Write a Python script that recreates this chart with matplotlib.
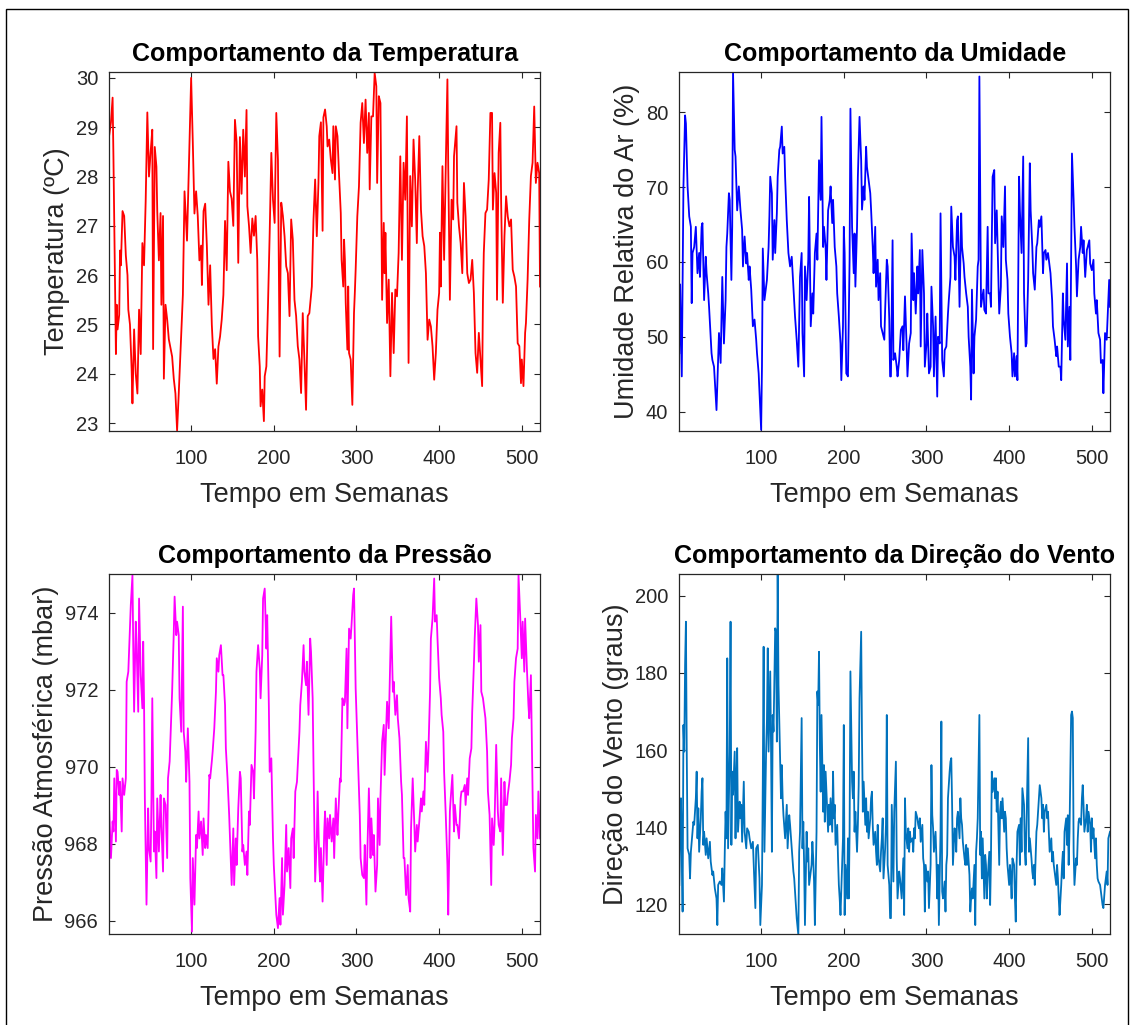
import numpy as np
import matplotlib.pyplot as plt
from matplotlib.patches import Rectangle

plt.rcParams['font.family'] = ['Liberation Sans', 'DejaVu Sans']

# leituras (semana, valor) estimadas do grafico
temperatura = [
    (1, 28.85), (3, 29.1), (5, 29.6), (6, 28.4), (9, 24.4), (10, 25.4), (11, 24.9), (13, 25.2), (14, 26.5),
    (15, 26.2), (17, 27.3), (19, 27.2), (21, 26.4), (23, 26.0), (24, 25.3), (26, 25.0), (28, 24.1), (29, 23.4),
    (31, 24.9), (33, 24.0), (35, 23.6), (37, 25.3), (39, 24.4), (41, 26.65), (43, 26.2), (45, 27.5), (47, 29.3),
    (49, 28.0), (51, 28.5), (53, 28.95), (54, 24.5), (56, 28.6), (58, 28.2), (59, 27.3), (61, 26.3), (63, 27.26),
    (64, 25.4), (66, 27.2), (67, 23.9), (69, 25.4), (71, 25.1), (73, 24.7), (77, 24.35), (79, 23.9), (81, 23.6),
    (83, 22.85), (85, 23.6), (88, 24.8), (90, 25.6), (92, 27.7), (95, 26.7), (97, 28.0), (100, 30.0), (102, 28.7),
    (104, 27.25), (106, 27.7), (108, 27.2), (110, 26.3), (112, 26.6), (113, 25.8), (115, 27.3), (117, 27.45),
    (119, 26.6), (121, 25.4), (123, 26.2), (125, 25.0), (127, 24.3), (129, 24.5), (131, 23.8), (133, 24.55),
    (135, 24.76), (137, 25.1), (139, 25.6), (141, 27.1), (143, 26.1), (145, 28.3), (147, 27.7), (149, 27.55),
    (151, 27.0), (153, 29.15), (155, 28.7), (157, 26.25), (159, 28.8), (161, 27.65), (163, 28.95), (165, 28.0),
    (167, 29.35), (168, 27.4), (170, 27.0), (172, 26.45), (174, 27.15), (176, 26.8), (178, 27.2), (180, 26.3),
    (181, 24.76), (183, 24.15), (184, 23.34), (186, 23.68), (188, 23.04), (189, 23.95), (191, 24.15), (193, 25.43),
    (195, 26.85), (197, 28.48), (199, 27.53), (201, 27.06), (203, 29.29), (205, 28.34), (207, 24.35), (209, 27.47),
    (211, 27.2), (213, 26.79), (215, 26.18), (217, 26.04), (219, 25.17), (221, 27.13), (223, 26.72), (225, 25.5),
    (227, 25.17), (229, 24.56), (231, 24.29), (233, 23.61), (235, 25.23), (237, 24.29), (239, 23.27), (241, 25.17),
    (243, 25.23), (246, 25.77), (248, 27.13), (250, 27.94), (252, 26.79), (254, 27.87), (255, 28.82), (257, 29.1),
    (259, 26.9), (260, 29.2), (262, 29.36), (264, 29.02), (265, 28.61), (267, 28.75), (269, 28.34), (271, 28.07),
    (272, 29.02), (274, 27.94), (275, 29.02), (277, 28.82), (279, 28.0), (281, 27.26), (282, 26.31), (284, 25.77),
    (285, 26.72), (286, 26.31), (287, 25.44), (289, 24.49), (290, 25.77), (291, 24.42), (293, 24.29), (295, 23.37),
    (297, 25.23), (298, 25.64), (299, 26.11), (301, 27.19), (303, 27.80), (305, 29.09), (307, 29.49), (309, 28.68),
    (311, 29.56), (313, 28.48), (315, 29.29), (316, 27.74), (318, 29.22), (320, 29.22), (322, 30.1), (324, 29.83),
    (325, 27.87), (327, 29.63), (329, 29.49), (331, 25.50), (333, 27.06), (334, 26.04), (335, 26.86), (337, 25.03),
    (339, 25.91), (341, 23.95), (343, 25.64), (345, 24.42), (347, 25.71), (349, 25.57), (351, 26.45), (353, 28.41),
    (355, 26.31), (357, 28.28), (359, 27.53), (361, 29.22), (363, 24.22), (365, 28.01), (367, 26.99), (369, 28.75),
    (371, 27.94), (373, 26.65), (374, 27.67), (376, 28.82), (378, 27.33), (380, 26.79), (382, 26.59), (384, 26.04),
    (386, 24.69), (388, 25.10), (390, 24.96), (392, 24.56), (394, 23.88), (396, 24.42), (398, 25.30), (400, 25.64),
    (401, 26.86), (402, 25.77), (404, 28.21), (406, 26.31), (408, 28.21), (410, 29.97), (411, 28.21), (413, 25.50),
    (415, 27.53), (417, 27.13), (418, 28.41), (421, 29.02), (422, 27.47), (424, 26.99), (426, 26.65), (428, 26.04),
    (430, 27.87), (432, 27.19), (434, 26.04), (436, 25.84), (438, 25.91), (440, 26.31), (442, 25.64), (444, 24.42),
    (446, 24.02), (448, 24.83), (450, 24.29), (452, 23.75), (453, 25.50), (454, 26.45), (456, 27.26), (458, 27.33),
    (460, 27.94), (462, 29.29), (464, 29.29), (465, 27.33), (467, 28.07), (469, 27.67), (470, 25.50), (472, 28.48),
    (474, 29.09), (475, 27.47), (477, 25.44), (479, 26.79), (481, 27.60), (483, 27.19), (485, 26.99), (487, 27.13),
    (489, 26.11), (491, 25.97), (493, 25.77), (495, 24.62), (497, 24.56), (499, 23.81), (500, 24.29), (502, 23.75),
    (504, 24.83), (505, 25.03), (507, 25.91), (509, 27.13), (511, 28.01), (513, 28.28), (515, 29.42), (517, 27.87),
    (519, 28.28), (521, 28.07), (522, 25.77),
]

umidade = [
    (1, 47.8), (2, 57.0), (4, 44.7), (6, 70.1), (8, 79.6), (9, 78.5), (11, 70.1), (13, 66.1), (15, 64.7), (16, 54.5),
    (17, 61.2), (19, 62.0), (21, 64.7), (23, 58.5), (25, 61.2), (26, 58.0), (28, 64.7), (29, 65.2), (31, 54.9),
    (33, 60.7), (34, 58.5), (36, 55.8), (37, 54.0), (40, 47.8), (41, 46.9), (43, 46.0), (46, 40.2), (48, 46.9),
    (49, 50.5), (51, 46.5), (53, 58.0), (55, 49.1), (57, 54.9), (58, 62.0), (59, 63.8), (61, 69.2), (62, 68.3),
    (64, 57.6), (65, 64.7), (66, 85.4), (68, 75.0), (69, 74.1), (71, 66.9), (73, 70.1), (75, 66.9), (77, 64.3),
    (78, 59.4), (80, 63.4), (82, 59.8), (83, 61.2), (85, 57.6), (86, 59.4), (88, 56.3), (90, 51.4), (92, 52.3),
    (94, 49.6), (95, 47.8), (97, 45.1), (98, 42.5), (100, 37.55), (101, 46.0), (102, 61.8), (104, 54.9), (106, 56.7),
    (107, 57.6), (109, 62.0), (110, 66.1), (111, 71.4), (113, 69.2), (114, 60.3), (116, 65.6), (117, 61.2),
    (119, 66.5), (120, 71.4), (122, 75.0), (123, 75.4), (125, 78.1), (126, 74.5), (128, 75.4), (129, 71.4),
    (131, 65.6), (133, 61.2), (135, 59.4), (137, 60.7), (139, 56.7), (141, 52.7), (143, 49.6), (145, 46.0),
    (147, 58.0), (149, 61.2), (150, 50.5), (152, 44.7), (153, 59.4), (155, 54.9), (157, 60.3), (158, 68.7),
    (160, 51.4), (162, 55.8), (163, 53.1), (165, 61.2), (167, 63.8), (168, 60.3), (170, 73.6), (172, 68.3),
    (173, 79.4), (175, 62.0), (176, 64.7), (178, 62.0), (179, 57.6), (181, 66.9), (183, 68.3), (184, 70.1),
    (186, 65.2), (187, 68.3), (189, 62.0), (191, 59.4), (192, 55.8), (194, 52.7), (196, 49.1), (197, 44.2),
    (199, 51.4), (200, 64.7), (201, 61.2), (203, 45.1), (205, 44.7), (207, 60.3), (208, 80.5), (210, 64.7),
    (212, 58.5), (213, 63.8), (214, 56.7), (216, 64.7), (217, 71.4), (219, 79.4), (221, 73.6), (222, 67.0),
    (224, 70.1), (225, 68.3), (227, 75.4), (228, 72.7), (230, 70.9), (232, 69.2), (233, 67.0), (235, 62.0),
    (236, 58.5), (238, 64.7), (239, 56.7), (241, 60.3), (242, 54.9), (244, 58.5), (245, 51.4), (247, 50.5),
    (249, 49.6), (250, 53.6), (252, 60.3), (253, 59.4), (255, 52.3), (256, 44.7), (257, 44.7), (259, 62.9),
    (260, 46.9), (262, 47.8), (264, 46.0), (265, 44.7), (267, 46.9), (269, 50.9), (271, 51.4), (272, 48.2),
    (274, 55.4), (276, 48.7), (277, 44.7), (279, 49.1), (281, 50.5), (282, 63.8), (284, 54.9), (285, 58.5),
    (287, 53.1), (289, 59.4), (290, 55.8), (292, 61.6), (293, 48.7), (295, 61.6), (297, 55.8), (298, 46.0),
    (300, 49.1), (301, 53.1), (303, 45.1), (305, 46.0), (306, 56.7), (308, 51.4), (309, 44.7), (311, 52.7),
    (313, 42.0), (314, 50.0), (316, 49.1), (317, 66.5), (319, 46.9), (321, 44.7), (322, 48.2), (324, 48.7),
    (326, 53.1), (327, 54.9), (329, 58.0), (330, 67.4), (332, 62.0), (334, 60.7), (335, 57.6), (337, 65.6),
    (338, 66.1), (340, 54.0), (342, 66.5), (343, 62.0), (345, 59.8), (346, 58.0), (348, 55.8), (350, 54.0),
    (351, 50.0), (353, 46.0), (354, 41.6), (355, 56.3), (357, 45.1), (358, 50.0), (360, 52.3), (362, 59.4),
    (363, 60.3), (364, 84.8), (366, 54.0), (367, 54.9), (369, 56.3), (370, 53.6), (372, 53.1), (374, 64.7),
    (375, 55.8), (377, 55.8), (378, 54.0), (380, 71.4), (382, 72.3), (383, 62.5), (385, 66.9), (387, 58.0),
    (388, 53.1), (390, 56.7), (391, 66.1), (393, 62.0), (395, 70.1), (396, 60.3), (398, 57.6), (399, 53.1),
    (401, 50.0), (403, 47.8), (404, 44.7), (406, 47.8), (407, 44.7), (409, 47.4), (410, 44.2), (412, 71.4),
    (413, 66.9), (415, 61.2), (417, 74.1), (418, 55.8), (420, 48.7), (421, 49.1), (423, 57.6), (425, 73.2),
    (426, 66.9), (428, 62.0), (429, 58.5), (431, 56.3), (433, 62.0), (434, 62.5), (436, 65.6), (437, 64.7),
    (439, 66.1), (441, 58.5), (442, 61.2), (444, 61.6), (445, 60.3), (447, 61.2), (449, 59.4), (450, 58.5),
    (452, 54.9), (453, 51.4), (455, 49.6), (457, 47.4), (458, 48.7), (460, 46.0), (462, 46.0), (463, 44.2),
    (465, 55.8), (466, 52.3), (468, 49.6), (470, 59.8), (471, 48.7), (473, 54.0), (474, 46.9), (476, 74.5),
    (478, 68.3), (479, 64.7), (481, 59.4), (482, 55.4), (484, 60.3), (486, 62.0), (487, 64.7), (489, 61.2),
    (490, 62.9), (492, 58.0), (494, 61.6), (495, 62.0), (497, 62.9), (498, 59.8), (500, 58.9), (502, 60.3),
    (503, 55.8), (505, 53.1), (506, 54.9), (508, 50.5), (510, 49.6), (511, 46.5), (513, 46.9), (514, 42.45),
    (516, 50.5), (518, 49.6), (519, 52.3), (521, 57.6), (522, 54.0),
]

pressao = [
    (1, 968.84), (3, 967.63), (5, 968.58), (6, 968.32), (7, 969.70), (9, 968.06), (10, 969.92), (11, 969.87),
    (13, 969.27), (14, 969.61), (16, 968.32), (17, 969.70), (19, 969.27), (21, 969.70), (22, 972.21), (24, 972.47),
    (25, 973.07), (27, 974.20), (29, 974.98), (30, 973.07), (31, 971.43), (33, 973.77), (34, 973.16), (36, 971.43),
    (37, 974.37), (39, 972.38), (41, 971.52), (42, 973.25), (43, 971.78), (44, 969.18), (46, 966.42), (48, 968.92),
    (49, 967.89), (51, 967.54), (52, 969.18), (53, 971.78), (55, 967.80), (56, 968.32), (58, 967.11), (59, 969.18),
    (61, 967.80), (63, 969.27), (64, 968.49), (66, 967.28), (67, 969.18), (69, 969.01), (71, 967.63), (72, 969.70),
    (74, 970.14), (76, 971.35), (77, 971.95), (79, 973.51), (80, 974.42), (82, 973.42), (83, 973.77), (85, 973.42),
    (86, 971.78), (88, 970.91), (90, 974.16), (91, 970.91), (93, 970.39), (94, 969.61), (96, 971.00), (98, 969.61),
    (99, 967.11), (101, 965.72), (102, 967.63), (104, 966.42), (106, 968.23), (107, 967.89), (109, 968.84),
    (110, 968.14), (112, 968.58), (114, 967.71), (115, 968.66), (117, 967.89), (118, 968.23), (120, 967.89),
    (122, 969.79), (123, 969.70), (125, 970.14), (126, 970.39), (128, 971.00), (130, 971.95), (131, 972.82),
    (133, 972.47), (134, 972.90), (136, 973.16), (138, 972.38), (139, 972.38), (141, 971.60), (142, 970.48),
    (144, 969.70), (146, 968.75), (147, 968.14), (149, 966.93), (151, 968.40), (152, 966.93), (154, 968.14),
    (155, 967.45), (157, 968.92), (159, 969.87), (160, 969.70), (162, 967.80), (163, 967.97), (165, 967.45),
    (167, 967.80), (168, 967.19), (170, 968.84), (171, 968.49), (173, 970.05), (175, 969.87), (176, 969.18),
    (178, 970.91), (179, 972.47), (181, 973.16), (183, 972.56), (184, 971.78), (186, 972.90), (187, 974.37),
    (189, 974.63), (191, 973.07), (192, 973.94), (194, 971.60), (195, 969.87), (197, 970.22), (199, 968.14),
    (200, 967.45), (202, 966.59), (203, 966.16), (205, 965.81), (207, 966.59), (208, 965.90), (210, 967.63),
    (211, 966.16), (213, 966.93), (215, 968.49), (216, 967.28), (218, 967.89), (220, 966.85), (221, 968.14),
    (223, 968.40), (224, 967.63), (226, 969.36), (228, 969.61), (229, 970.05), (231, 970.91), (232, 971.60),
    (234, 972.21), (236, 973.16), (237, 972.47), (239, 972.12), (240, 972.73), (242, 971.35), (244, 973.33),
    (245, 972.99), (247, 971.78), (248, 970.05), (250, 967.02), (252, 968.14), (253, 969.36), (255, 967.45),
    (256, 967.02), (257, 967.89), (259, 966.50), (261, 968.32), (262, 968.84), (264, 967.45), (265, 968.66),
    (267, 968.14), (268, 968.75), (270, 968.06), (272, 968.66), (273, 967.63), (275, 969.18), (277, 968.23),
    (278, 968.75), (280, 969.70), (281, 969.61), (283, 971.78), (285, 971.60), (286, 971.69), (288, 973.07),
    (289, 971.00), (291, 973.59), (293, 973.33), (294, 973.68), (296, 974.46), (297, 974.63), (299, 972.04),
    (301, 970.74), (302, 970.05), (304, 968.75), (305, 967.63), (307, 967.19), (309, 967.11), (310, 967.97),
    (312, 966.42), (313, 967.63), (315, 969.44), (317, 967.63), (318, 968.66), (320, 967.71), (321, 968.23),
    (323, 966.76), (325, 967.45), (326, 969.18), (328, 967.97), (329, 969.18), (331, 970.65), (333, 971.09),
    (334, 969.79), (336, 971.09), (337, 971.69), (339, 971.00), (341, 972.90), (342, 973.90), (344, 971.95),
    (345, 972.21), (347, 971.35), (349, 971.86), (350, 971.26), (352, 970.74), (354, 969.61), (355, 969.27),
    (357, 967.63), (358, 967.63), (360, 966.67), (362, 967.45), (363, 966.59), (365, 966.24), (366, 968.40),
    (368, 969.70), (370, 968.49), (371, 967.80), (373, 968.49), (374, 968.06), (376, 968.58), (378, 969.18),
    (379, 968.84), (381, 969.36), (382, 969.01), (384, 970.65), (386, 969.87), (387, 970.39), (389, 971.95),
    (390, 973.33), (392, 973.85), (394, 974.89), (395, 973.77), (397, 973.94), (398, 973.33), (400, 972.30),
    (402, 971.78), (403, 971.35), (405, 970.91), (406, 969.87), (408, 968.75), (410, 967.45), (411, 966.16),
    (413, 968.84), (414, 969.18), (416, 969.79), (418, 968.32), (419, 969.01), (421, 968.49), (422, 968.49),
    (424, 968.14), (426, 969.18), (427, 969.36), (429, 969.36), (431, 969.53), (432, 969.01), (434, 969.70),
    (435, 969.27), (437, 970.22), (439, 970.48), (440, 971.43), (442, 972.64), (443, 973.33), (445, 974.37),
    (447, 973.68), (448, 972.73), (450, 973.68), (451, 971.95), (453, 971.78), (455, 971.43), (456, 971.26),
    (458, 970.39), (459, 969.36), (461, 968.75), (463, 966.93), (464, 968.66), (466, 967.97), (467, 968.49),
    (469, 970.57), (471, 968.84), (472, 968.49), (474, 968.32), (475, 969.70), (477, 967.71), (479, 969.61),
    (480, 969.01), (482, 969.01), (483, 969.27), (485, 969.61), (487, 970.05), (488, 970.74), (490, 971.26),
    (491, 972.21), (493, 972.82), (495, 973.07), (496, 974.98), (498, 973.94), (500, 972.82), (501, 973.77),
    (503, 972.47), (504, 973.85), (506, 972.64), (508, 971.60), (509, 971.26), (511, 972.38), (512, 970.91),
    (514, 967.89), (516, 967.28), (517, 968.75), (519, 968.14), (520, 969.36), (522, 968.14),
]

vento = [
    (1, 125.0), (3, 147.5), (4, 134.5), (5, 118.1), (6, 166.5), (7, 159.6), (8, 182.1), (9, 193.3), (10, 159.6),
    (11, 134.5), (13, 132.8), (14, 126.7), (15, 133.6), (17, 138.8), (18, 141.4), (19, 140.6), (21, 147.5),
    (22, 154.4), (23, 137.1), (24, 144.9), (25, 133.6), (27, 142.3), (28, 149.2), (29, 152.7), (30, 135.4),
    (31, 138.8), (33, 132.8), (34, 137.1), (36, 131.9), (38, 136.2), (39, 131.1), (41, 127.6), (42, 128.5),
    (44, 124.1), (46, 121.5), (47, 114.6), (48, 125.0), (50, 125.9), (52, 125.0), (53, 129.3), (55, 120.7),
    (56, 133.6), (57, 144.0), (58, 137.1), (59, 183.8), (60, 134.5), (62, 159.6), (63, 193.3), (64, 135.4),
    (65, 154.4), (66, 148.4), (68, 159.6), (69, 137.1), (70, 151.8), (71, 160.5), (72, 138.8), (74, 146.6),
    (75, 142.3), (76, 145.8), (77, 136.2), (79, 151.8), (80, 138.8), (82, 134.5), (83, 139.7), (85, 138.8),
    (86, 137.1), (88, 134.5), (90, 136.2), (91, 130.2), (93, 119.0), (94, 134.5), (96, 135.4), (98, 126.7),
    (99, 114.6), (101, 125.0), (102, 151.8), (103, 186.8), (104, 133.6), (106, 159.6), (107, 167.4), (108, 186.4),
    (109, 159.6), (111, 180.4), (112, 159.6), (113, 133.6), (114, 169.1), (115, 164.8), (117, 191.6), (118, 190.7),
    (119, 162.2), (120, 205.4), (121, 176.9), (123, 157.0), (124, 147.5), (125, 156.1), (126, 147.5), (127, 143.1),
    (129, 137.1), (131, 145.8), (132, 134.5), (134, 143.1), (135, 140.6), (137, 134.5), (139, 128.5), (140, 126.7),
    (142, 119.8), (143, 116.4), (145, 112.0), (146, 133.6), (147, 138.8), (149, 168.3), (150, 134.5), (151, 141.4),
    (152, 130.2), (153, 114.6), (155, 138.8), (156, 131.1), (157, 134.5), (158, 125.0), (159, 126.7), (161, 130.2),
    (162, 136.2), (163, 131.9), (164, 125.9), (165, 114.6), (167, 138.8), (168, 175.2), (169, 171.7), (170, 185.5),
    (171, 161.3), (172, 149.2), (173, 169.1), (175, 144.0), (176, 156.1), (177, 141.4), (178, 154.4), (180, 144.0),
    (181, 138.8), (182, 145.8), (183, 140.6), (184, 147.5), (186, 138.8), (187, 154.4), (188, 142.3), (189, 145.8),
    (190, 135.4), (192, 140.6), (193, 131.9), (194, 125.0), (195, 121.5), (196, 117.2), (198, 130.2), (199, 137.1),
    (200, 166.5), (201, 117.2), (202, 130.2), (204, 121.5), (205, 137.1), (206, 121.5), (207, 138.8), (208, 180.4),
    (210, 151.8), (211, 147.5), (212, 154.4), (213, 138.8), (214, 144.0), (216, 133.6), (217, 140.6), (218, 150.9),
    (219, 173.4), (221, 190.7), (222, 163.1), (223, 144.0), (224, 151.8), (226, 140.6), (227, 147.5), (228, 138.8),
    (229, 144.0), (230, 137.1), (232, 142.3), (233, 147.5), (234, 149.2), (235, 140.6), (236, 135.4), (238, 138.8),
    (239, 133.6), (240, 130.2), (241, 140.6), (242, 131.9), (244, 128.5), (245, 133.6), (246, 137.1), (247, 142.3),
    (248, 126.7), (250, 134.5), (251, 140.6), (252, 169.1), (253, 130.2), (255, 125.0), (256, 116.4), (257, 116.4),
    (258, 145.8), (260, 125.9), (261, 144.0), (263, 157.0), (264, 131.9), (265, 121.5), (267, 128.5), (268, 126.7),
    (270, 121.5), (272, 131.9), (273, 117.2), (274, 147.5), (275, 138.8), (277, 134.5), (278, 139.7), (279, 133.6),
    (280, 138.8), (281, 136.2), (283, 137.1), (284, 133.6), (285, 139.7), (286, 137.1), (287, 144.0), (289, 142.3),
    (290, 140.6), (291, 139.7), (292, 142.3), (293, 136.2), (295, 140.6), (296, 131.9), (297, 130.2), (298, 118.1),
    (299, 130.2), (301, 125.9), (302, 128.5), (303, 119.0), (305, 130.2), (306, 156.1), (307, 143.1), (308, 139.7),
    (309, 133.6), (311, 138.8), (312, 131.9), (313, 121.5), (314, 130.2), (315, 114.6), (317, 138.8), (318, 167.4),
    (319, 123.3), (320, 121.5), (322, 125.9), (323, 118.1), (324, 130.2), (325, 132.8), (326, 147.5), (328, 154.4),
    (329, 157.0), (330, 157.9), (331, 145.8), (332, 130.2), (334, 139.7), (335, 138.8), (336, 133.6), (337, 142.3),
    (338, 144.0), (340, 137.1), (341, 147.5), (342, 142.3), (343, 140.6), (344, 136.2), (346, 131.9), (347, 130.2),
    (348, 135.4), (349, 130.2), (350, 134.5), (352, 127.6), (353, 118.1), (354, 121.5), (355, 124.1), (356, 121.5),
    (358, 130.2), (359, 114.6), (360, 133.6), (361, 137.1), (362, 142.3), (364, 169.1), (365, 132.8), (366, 138.8),
    (367, 126.7), (368, 137.1), (370, 121.5), (371, 132.8), (372, 130.2), (373, 121.5), (374, 126.7), (376, 133.6),
    (377, 119.8), (378, 131.9), (379, 154.4), (380, 149.2), (382, 152.7), (383, 147.5), (384, 152.7), (385, 144.0),
    (386, 149.2), (388, 130.2), (389, 144.0), (390, 146.6), (391, 142.3), (392, 147.5), (394, 138.8), (395, 144.0),
    (396, 142.3), (397, 134.5), (398, 130.2), (400, 125.0), (401, 130.2), (402, 126.7), (403, 121.5), (404, 131.9),
    (406, 130.2), (407, 121.5), (408, 115.5), (409, 130.2), (410, 138.8), (412, 140.6), (413, 130.2), (414, 142.3),
    (415, 133.6), (416, 150.1), (418, 145.8), (419, 133.6), (420, 130.2), (421, 140.6), (423, 163.1), (424, 133.6),
    (425, 137.1), (427, 131.9), (428, 128.5), (429, 126.7), (430, 130.2), (431, 125.0), (433, 138.8), (434, 140.6),
    (435, 144.0), (436, 147.5), (437, 150.9), (439, 147.5), (440, 142.3), (441, 145.8), (442, 138.8), (443, 144.0),
    (445, 145.8), (446, 142.3), (447, 144.0), (448, 138.8), (449, 133.6), (451, 137.1), (452, 131.1), (453, 133.6),
    (454, 130.2), (455, 128.5), (457, 125.0), (458, 130.2), (459, 126.7), (460, 121.5), (461, 117.2), (463, 125.0),
    (464, 130.2), (465, 133.6), (466, 126.7), (467, 138.8), (469, 142.3), (470, 135.4), (471, 143.1), (472, 130.2),
    (473, 138.8), (475, 169.1), (476, 170.0), (477, 168.3), (478, 133.6), (479, 125.0), (481, 131.9), (482, 130.2),
    (483, 137.1), (484, 141.4), (485, 142.3), (487, 140.6), (488, 147.5), (489, 150.9), (490, 145.8), (491, 138.8),
    (493, 142.3), (494, 145.8), (495, 138.8), (496, 144.0), (498, 140.6), (499, 133.6), (500, 142.3), (501, 137.1),
    (502, 139.7), (504, 131.9), (505, 137.1), (506, 130.2), (507, 126.7), (508, 125.9), (510, 125.0), (511, 123.3),
    (512, 121.5), (513, 119.8), (514, 119.0), (516, 125.0), (517, 126.7), (518, 128.5), (519, 125.0), (520, 137.1),
    (521, 138.0), (522, 138.8),
]

titulos = ['Comportamento da Temperatura', 'Comportamento da Umidade',
           'Comportamento da Pressão', 'Comportamento da Direção do Vento']
rotulos_y = ['Temperatura (ºC)', 'Umidade Relativa do Ar (%)',
             'Pressão Atmosférica (mbar)', 'Direção do Vento (graus)']
cores = ['#ff0000', '#0000ff', '#ff00ff', '#0072bd']
limites_y = [(22.84, 30.12), (37.4, 85.4), (965.65, 975.0), (112.2, 205.6)]
ticks_y = [[23, 24, 25, 26, 27, 28, 29, 30], [40, 50, 60, 70, 80],
           [966, 968, 970, 972, 974], [120, 140, 160, 180, 200]]
ticks_x = [100, 200, 300, 400, 500]
series = [temperatura, umidade, pressao, vento]

W, H = 1135, 1025
fig = plt.figure(figsize=(W / 100, H / 100), dpi=100)

# caixas dos eixos em pixels (esq, topo, dir, base)
caixas = [(109.3, 72, 540, 431), (679.3, 72, 1110, 431),
          (109.3, 574.3, 540, 934.3), (679.3, 574.3, 1110, 934.3)]

cinza = '#262626'
for i, dados in enumerate(series):
    x0, y0, x1, y1 = caixas[i]
    ax = fig.add_axes([x0 / W, 1 - y1 / H, (x1 - x0) / W, (y1 - y0) / H])
    sem, val = np.array(dados).T
    ax.plot(sem, val, color=cores[i], lw=1.3)
    ax.set_xlim(1, 522)
    ax.set_ylim(*limites_y[i])
    ax.set_xticks(ticks_x)
    ax.set_yticks(ticks_y[i])
    ax.tick_params(direction='in', top=True, right=True, length=4, width=0.8,
                   colors=cinza, labelsize=14.5)
    ax.tick_params(axis='x', pad=13)
    ax.tick_params(axis='y', pad=8)
    for s in ax.spines.values():
        s.set_color(cinza)
        s.set_linewidth(0.9)
    ax.set_title(titulos[i], fontsize=18, fontweight='bold', color='black', pad=8)
    ax.set_xlabel('Tempo em Semanas', fontsize=19.5, color=cinza, labelpad=10)
    ax.set_ylabel(rotulos_y[i], fontsize=19.5, color=cinza, labelpad=4)

# moldura da figura
fig.patches.append(Rectangle((6 / W, -0.01), 1122 / W, 1.01 - 9 / H, transform=fig.transFigure,
                             fill=False, edgecolor='black', lw=1.0))

fig.savefig('out.png', dpi=100)
